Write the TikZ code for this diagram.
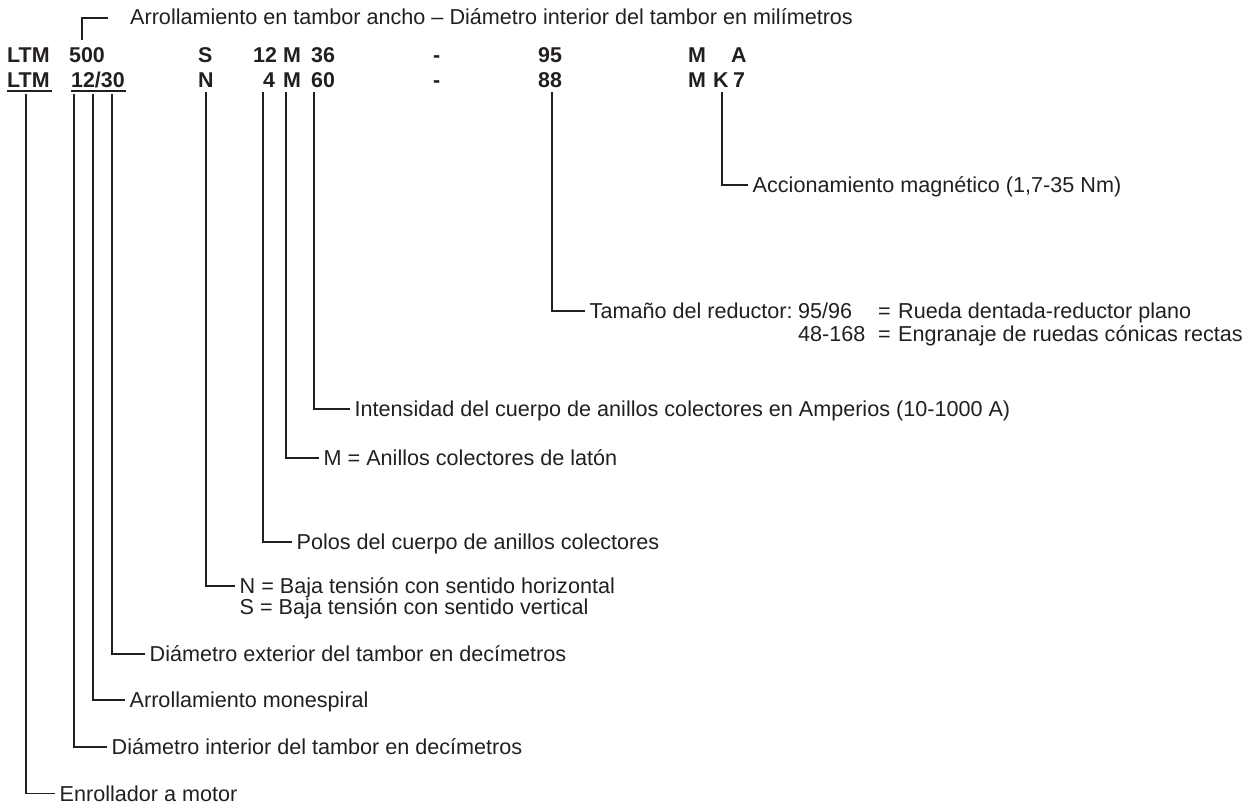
\documentclass[tikz,border=0pt]{standalone}
\usepackage{fontspec}
\setmainfont{Liberation Sans}
\usetikzlibrary{calc}
\definecolor{ink}{HTML}{231F20}
\begin{document}
\begin{tikzpicture}[x=1pt,y=-1pt,
  conn/.style={draw=ink, line width=1.1pt},
  code/.style={anchor=base west, inner sep=0pt, font=\fontsize{21.4}{25}\selectfont\bfseries, text=ink},
  lbl/.style={anchor=west, inner xsep=4.5pt, inner ysep=0pt, text height=15.2pt, text depth=0pt, font=\fontsize{21.6}{25}\selectfont, text=ink},
  lblb/.style={anchor=base west, inner sep=0pt, font=\fontsize{21.6}{25}\selectfont, text=ink}]
\useasboundingbox (0,0) rectangle (1248,803);

% header
\node[lblb] (head) at (130,24) {Arrollamiento en tambor ancho – Diámetro interior del tambor en milímetros};
\coordinate (hbA) at (82,40);
\coordinate (hbB) at (108,18);
\draw[conn] (hbA) |- (hbB);

% code row 1
\node[code] (ltmA) at (7,62) {LTM};
\node[code] (dA) at (69,62) {500};
\node[code] (sA) at (198,62) {S};
\node[code] (pA) at (253,62) {12};
\node[code] (mA) at (283,62) {M};
\node[code] (aA) at (311,62) {36};
\node[code] (hyA) at (433,62) {-};
\node[code] (gA) at (538,62) {95};
\node[code] (mmA) at (688,62) {M};
\node[code] (xA) at (731,62) {A};

% code row 2
\node[code] (ltmB) at (7,87) {LTM};
\node[code] (dB) at (71,87) {12/30};
\node[code] (nB) at (198,87) {N};
\node[code] (pB) at (263,87) {4};
\node[code] (mB) at (283,87) {M};
\node[code] (aB) at (311,87) {60};
\node[code] (hyB) at (433,87) {-};
\node[code] (gB) at (538,87) {88};
\node[code] (mmB) at (688,87) {M};
\node[code] (kB) at (713,87) {K};
\node[code] (sevB) at (733,87) {7};

% underlines
\coordinate (u1a) at (7,91);  \coordinate (u1b) at (52,91);
\coordinate (u2a) at (71,91); \coordinate (u2b) at (126,91);
\draw[conn] (u1a) -- (u1b);
\draw[conn] (u2a) -- (u2b);

% tops of the leader lines
\coordinate (tLTM) at (26,94);
\coordinate (t1) at (74,94);
\coordinate (t2) at (93,94);
\coordinate (t3) at (112,94);
\coordinate (tN) at (206,92);
\coordinate (t4) at (263,92);
\coordinate (tM) at (286,92);
\coordinate (t60) at (314,92);
\coordinate (t88) at (552,92);
\coordinate (tK) at (722,92);

% labels
\node[lbl] (lK) at (748,185) {Accionamiento magnético (1,7-35 Nm)};
\node[lbl] (lT) at (585,311) {Tamaño del reductor:};
\node[lblb] (lTa) at (798,318.6) {95/96};
\node[lblb] (lTb) at (798,341.6) {48-168};
\node[lblb] (lTe1) at (878,318.6) {=};
\node[lblb] (lTe2) at (878,341.6) {=};
\node[lblb] (lTr1) at (898,318.6) {Rueda dentada-reductor plano};
\node[lblb] (lTr2) at (898,341.6) {Engranaje de ruedas cónicas rectas};
\node[lbl] (l60) at (350,409) {Intensidad del cuerpo de anillos colectores en Amperios (10-1000 A)};
\node[lbl] (lM) at (319,458) {M = Anillos colectores de latón};
\node[lbl] (l4) at (292,542) {Polos del cuerpo de anillos colectores};
\node[lbl] (lN) at (235,586) {N = Baja tensión con sentido horizontal};
\node[lblb] (lS) at (239.5,614.6) {S = Baja tensión con sentido vertical};
\node[lbl] (l3) at (145,654) {Diámetro exterior del tambor en decímetros};
\node[lbl] (l2) at (125,700) {Arrollamiento monespiral};
\node[lbl] (l1) at (107,747) {Diámetro interior del tambor en decímetros};
\node[lbl] (l0) at (55,793.5) {Enrollador a motor};

% leaders
\draw[conn] (tK) |- (lK);
\draw[conn] (t88) |- (lT);
\draw[conn] (t60) |- (l60);
\draw[conn] (tM) |- (lM);
\draw[conn] (t4) |- (l4);
\draw[conn] (tN) |- (lN);
\draw[conn] (t3) |- (l3);
\draw[conn] (t2) |- (l2);
\draw[conn] (t1) |- (l1);
\draw[conn] (tLTM) |- (l0);
\end{tikzpicture}
\end{document}
